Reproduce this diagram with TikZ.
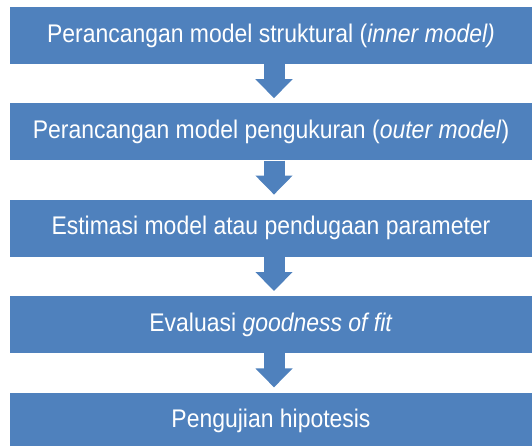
\documentclass[tikz,border=0pt]{standalone}
\usepackage{fontspec}
\setmainfont{Liberation Sans}[FakeStretch=0.9]
\usetikzlibrary{positioning,arrows.meta}
\definecolor{azul}{RGB}{79,129,189}
\begin{document}
\begin{tikzpicture}[x=1pt,y=1pt,
    etapa/.style={fill=azul, text=white, minimum width=522pt, minimum height=57pt, inner sep=0pt, font=\fontsize{25.5}{30}\selectfont},
    seta/.style={azul, line width=21pt, -{Triangle[width=36pt,length=19pt]}}] %Estilos
\useasboundingbox (0,0) rectangle (532,-445);
\clip (0,0) rectangle (532,-445);
	%Etapas
	\node[etapa] (e1) at (271,-35.5) {Perancangan model struktural (\textit{inner model)}};
	\node[etapa, below=39pt of e1] (e2) {Perancangan model pengukuran (\textit{outer model})};
	\node[etapa, below=39pt of e2] (e3) {Estimasi model atau pendugaan parameter};
	\node[etapa, below=39pt of e3] (e4) {Evaluasi \textit{goodness of fit}};
	\node[etapa, below=39pt of e4] (e5) {Pengujian hipotesis};
	%Setas
	\foreach \a/\b in {e1/e2, e2/e3, e3/e4, e4/e5}
		\draw[seta] ([xshift=3pt]\a.south) -- ([xshift=3pt,yshift=5pt]\b.north);
\end{tikzpicture}
\end{document}
